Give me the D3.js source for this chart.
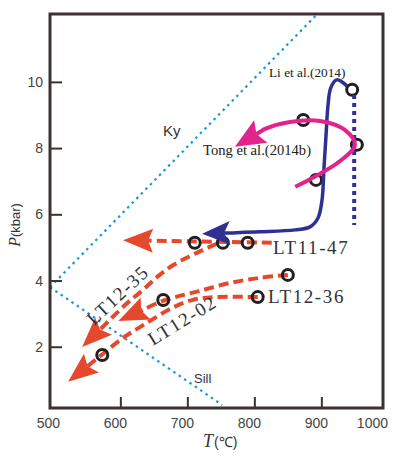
<!DOCTYPE html>
<html>
<head>
<meta charset="utf-8">
<script src="https://cdn.jsdelivr.net/npm/d3@7"></script>
<style>
  body { margin: 0; background: #ffffff; }
</style>
</head>
<body>
<div class="pt-wrapper"></div>
<script>
let ptW = 396;
let ptH = 459;
let frameColor = "#3a3330";

// axis values
let tempTicks = [600, 700, 800, 900];
let tempLabels = [500, 600, 700, 800, 900, 1000];
let pressureTicks = [2, 4, 6, 8, 10];

// Al2SiO5 reaction lines [T, P]
let kyLine = [[495, 3.8], [894, 12.05]];
let sillLine = [[495, 3.8], [752, 0.24]];

// open circles
let circlePoints = [
  [946, 9.76], [873, 8.85], [953, 8.10], [892, 7.04],
  [711, 5.14], [753, 5.14], [790, 5.14],
  [850, 4.17], [805, 3.50], [664, 3.41], [573, 1.75]
];

// Li et al. (2014)
let liPath = [
  [938, 9.88], [923, 10.06], [914, 9.82], [910, 9.31], [907, 8.40], [904, 7.43],
  [901, 6.43], [895, 5.89], [883, 5.62], [861, 5.53], [808, 5.47], [722, 5.41]
];
let liDotted = [[949, 9.60], [949, 5.68]];

// Tong et al. (2014b)
let tongPath = [
  [861, 6.83], [892, 7.16], [928, 7.61], [950, 8.10], [935, 8.55],
  [898, 8.82], [853, 8.79], [816, 8.58], [771, 8.04]
];

// red sample paths
let lt1147 = [[826, 5.14], [604, 5.22]];
let lt1235 = [[744, 5.11], [723, 4.92], [704, 4.74], [679, 4.47], [655, 4.11], [634, 3.72], [607, 3.26], [543, 1.99]];
let lt1202 = [[850, 4.17], [808, 4.08], [764, 3.93], [719, 3.69], [682, 3.50], [659, 3.35], [597, 2.78]];
let lt1236 = [[805, 3.50], [741, 3.50], [707, 3.41], [677, 3.17], [637, 2.69], [602, 2.24], [570, 1.72], [522, 0.94]];

let xScale = d3.scaleLinear().domain([495, 992]).range([50, 383]);
let yScale = d3.scaleLinear().domain([0.15, 12.05]).range([408, 14]);

let viz = d3.select(".pt-wrapper")
  .append("svg")
  .attr("width", ptW)
  .attr("height", ptH)
  .style("background-color", "#ffffff")
  .style("display", "block")
;

viz.append("clipPath").attr("id", "plotclip")
  .append("rect")
  .attr("x", 50).attr("y", 14)
  .attr("width", 333).attr("height", 394)
;

let plot = viz.append("g").attr("clip-path", "url(#plotclip)");

// ticks
let xAxis = d3.axisBottom(xScale).tickValues(tempTicks).tickSize(-11).tickFormat("");
let xAxisGroup = viz.append("g")
  .attr("class", "xaxisgroup")
  .attr("transform", "translate(0,408)")
  .call(xAxis)
;
let yAxis = d3.axisLeft(yScale).tickValues(pressureTicks).tickSize(-12).tickPadding(7);
let yAxisGroup = viz.append("g")
  .attr("class", "yaxisgroup")
  .attr("transform", "translate(50,0)")
  .call(yAxis)
;
viz.selectAll(".domain").remove();
viz.selectAll(".tick line").attr("stroke", frameColor).attr("stroke-width", 2);
yAxisGroup.selectAll("text")
  .attr("font-family", "Liberation Sans, Arial, sans-serif")
  .attr("font-size", 14)
  .attr("fill", "#444")
;

viz.selectAll(".templabel").data(tempLabels).enter()
  .append("text")
  .attr("class", "templabel")
  .attr("x", function(d){
    if (d == 1000) { return 388; }
    return xScale(d) - 5;
  })
  .attr("y", 428)
  .attr("text-anchor", function(d){ return d == 1000 ? "end" : "middle"; })
  .attr("font-family", "Liberation Sans, Arial, sans-serif")
  .attr("font-size", 14)
  .attr("fill", "#444")
  .text(d => d)
;

// axis titles
let tTitle = viz.append("text").attr("x", 203).attr("y", 447).attr("fill", "#333");
tTitle.append("tspan").attr("font-family", "Liberation Serif, serif").attr("font-style", "italic").attr("font-size", 18).text("T");
tTitle.append("tspan").attr("font-family", "Liberation Sans, Arial, sans-serif").attr("font-size", 14).attr("dx", 1).text("(℃)");

let pTitle = viz.append("text")
  .attr("transform", "translate(20,225) rotate(-90)")
  .attr("text-anchor", "middle")
  .attr("fill", "#333")
;
pTitle.append("tspan").attr("font-family", "Liberation Serif, serif").attr("font-style", "italic").attr("font-size", 16).text("P");
pTitle.append("tspan").attr("font-family", "Liberation Sans, Arial, sans-serif").attr("font-size", 13).text("(kbar)");

// Al2SiO5 lines
let lineGen = d3.line().x(d => xScale(d[0])).y(d => yScale(d[1]));
[kyLine, sillLine].forEach(function(l){
  plot.append("path")
    .attr("d", lineGen(l))
    .attr("fill", "none")
    .attr("stroke", "#1b98d8")
    .attr("stroke-width", 2.2)
    .attr("stroke-dasharray", "2.5,4")
  ;
});

function drawArrowPath(group, data, color, width, dash, len, half, notch){
  let pts = data.map(d => [xScale(d[0]), yScale(d[1])]);
  let tip = pts[pts.length-1];
  let prev = pts[pts.length-2];
  let dist = Math.hypot(tip[0]-prev[0], tip[1]-prev[1]);
  let ux = (tip[0]-prev[0])/dist;
  let uy = (tip[1]-prev[1])/dist;
  let nx = -uy, ny = ux;
  let base = [tip[0]-ux*len, tip[1]-uy*len];
  let inner = [tip[0]-ux*(len-notch), tip[1]-uy*(len-notch)];
  let linePts = pts.slice(0, -1);
  if (dist - len < 4) { linePts.pop(); }
  linePts.push(base);
  linePts.push(inner);
  group.append("path")
    .attr("d", d3.line().curve(d3.curveCatmullRom)(linePts))
    .attr("fill", "none")
    .attr("stroke", color)
    .attr("stroke-width", width)
    .attr("stroke-dasharray", dash)
  ;
  let head = [
    tip,
    [base[0]+nx*half, base[1]+ny*half],
    inner,
    [base[0]-nx*half, base[1]-ny*half]
  ];
  group.append("path")
    .attr("d", "M" + head.join("L") + "Z")
    .attr("fill", color)
  ;
}

// red sample paths
let red = "#e5492d";
[lt1147, lt1235, lt1202, lt1236].forEach(function(p){
  drawArrowPath(plot, p, red, 4, "10,5", 30, 12, 5);
});

// circles
plot.selectAll(".datapoint").data(circlePoints).enter()
  .append("circle")
  .attr("class", "datapoint")
  .attr("cx", d => xScale(d[0]))
  .attr("cy", d => yScale(d[1]))
  .attr("r", 5.5)
  .attr("fill", "none")
  .attr("stroke", "#231f20")
  .attr("stroke-width", 3)
;

// Li et al.
plot.append("path")
  .attr("d", lineGen(liDotted))
  .attr("fill", "none")
  .attr("stroke", "#2e3192")
  .attr("stroke-width", 4)
  .attr("stroke-dasharray", "4,4")
;
drawArrowPath(plot, liPath, "#2e3192", 3.5, null, 28, 12, 6);

// Tong et al.
drawArrowPath(plot, tongPath, "#e2238c", 4, null, 30, 13, 5);

// labels
let serif = "Liberation Serif, Times New Roman, serif";
function sampleLabel(txt, x, y, angle){
  viz.append("text")
    .attr("transform", "translate(" + x + "," + y + ") rotate(" + angle + ")")
    .attr("font-family", serif)
    .attr("font-size", 19)
    .attr("letter-spacing", 1.6)
    .attr("fill", "#333")
    .text(txt)
  ;
}
sampleLabel("LT11-47", 273, 254, 0);
sampleLabel("LT12-36", 268, 303, 0);
sampleLabel("LT12-35", 94, 326, -43);
sampleLabel("LT12-02", 153, 346, -31.6);

viz.append("text")
  .attr("x", 269).attr("y", 77)
  .attr("font-family", serif).attr("font-size", 13.3)
  .attr("fill", "#222")
  .text("Li et al.(2014)")
;
viz.append("text")
  .attr("x", 203).attr("y", 155)
  .attr("font-family", serif).attr("font-size", 14.6)
  .attr("fill", "#222")
  .text("Tong et al.(2014b)")
;
viz.append("text")
  .attr("x", 163).attr("y", 136)
  .attr("font-family", "Liberation Sans, Arial, sans-serif").attr("font-size", 15)
  .attr("fill", "#333")
  .text("Ky")
;
viz.append("text")
  .attr("x", 194).attr("y", 383)
  .attr("font-family", "Liberation Sans, Arial, sans-serif").attr("font-size", 13)
  .attr("fill", "#333")
  .text("Sill")
;

// frame
viz.append("rect")
  .attr("x", 50).attr("y", 14)
  .attr("width", 333).attr("height", 394)
  .attr("fill", "none")
  .attr("stroke", frameColor)
  .attr("stroke-width", 3)
;
</script>
</body>
</html>
